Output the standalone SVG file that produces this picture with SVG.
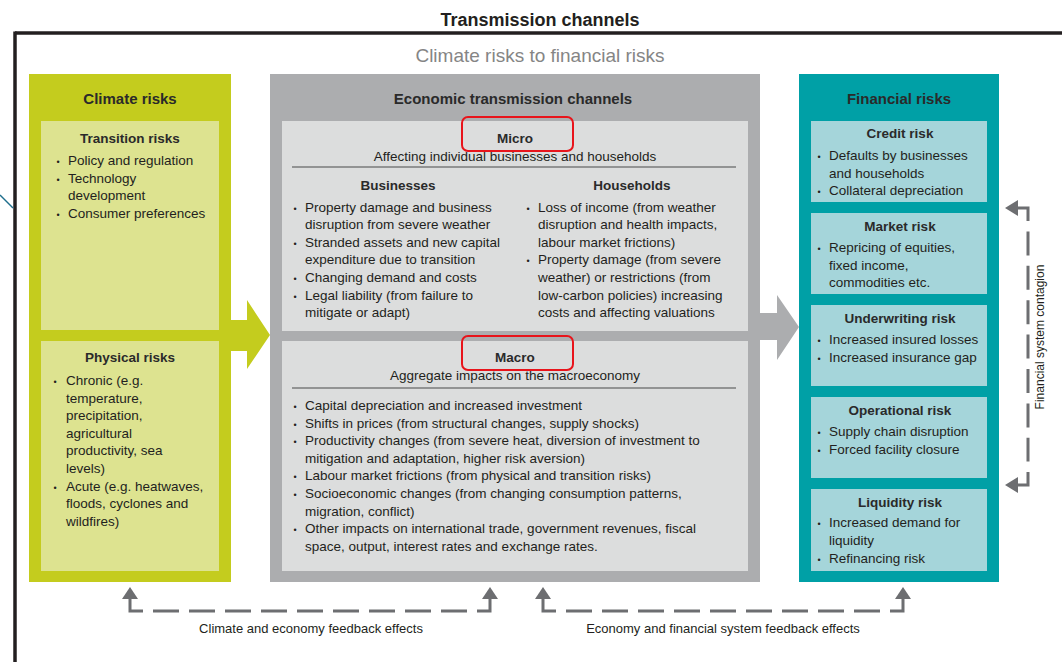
<svg xmlns="http://www.w3.org/2000/svg" width="1062" height="662" viewBox="0 0 1062 662">
<defs>
<style>
text{font-family:"Liberation Sans",Arial,sans-serif;fill:#231f20}
.t{font-size:13.5px}
.bu{font-size:9px;text-anchor:middle}
.h{font-size:15px;font-weight:bold;text-anchor:middle;fill:#2a2a2a}
.st{font-size:13.5px;font-weight:bold;text-anchor:middle;fill:#2a2a2a}
.c{text-anchor:middle}
.fb{font-size:13px;text-anchor:middle}
.red{fill:none;stroke:#e8141b;stroke-width:2}
.fl{fill:none;stroke:#6d6e71;stroke-width:3}
.dash{stroke-dasharray:26 10}
.head{fill:#6d6e71}
</style>
</defs>
<rect width="1062" height="662" fill="#ffffff"/>
<g id="frame">
<line x1="15" y1="33" x2="1062" y2="33" stroke="#231f20" stroke-width="3.5"/>
<line x1="15" y1="31.5" x2="15" y2="662" stroke="#231f20" stroke-width="3.5"/>
<line x1="0" y1="195" x2="13" y2="208" stroke="#1f6e8c" stroke-width="1.5"/>
<text x="540" y="26" class="c" style="font-size:18px;font-weight:bold">Transmission channels</text>
<text x="540" y="62" class="c" style="font-size:19px;fill:#858585">Climate risks to financial risks</text>
</g>
<g id="climate-risks">
<rect x="29" y="74" width="202" height="508" fill="#c4cc1e"/>
<polygon points="230,320 247,320 247,300 270,335 247,369 247,351 230,351" fill="#c4cc1e"/>
<text x="130" y="104" class="h">Climate risks</text>
<g id="transition-risks">
<rect x="41" y="121" width="178" height="209" fill="#dde390"/>
<text x="130" y="143" class="st">Transition risks</text>
<text x="58" y="165" class="bu">•</text><text x="68" y="165" class="t">Policy and regulation</text>
<text x="58" y="182.6" class="bu">•</text><text x="68" y="182.6" class="t">Technology</text>
<text x="68" y="200.2" class="t">development</text>
<text x="58" y="217.8" class="bu">•</text><text x="68" y="217.8" class="t">Consumer preferences</text>
</g>
<g id="physical-risks">
<rect x="41" y="341" width="178" height="230" fill="#dde390"/>
<text x="130" y="362" class="st">Physical risks</text>
<text x="55" y="385" class="bu">•</text><text x="66" y="385" class="t">Chronic (e.g.</text>
<text x="66" y="402.6" class="t">temperature,</text>
<text x="66" y="420.2" class="t">precipitation,</text>
<text x="66" y="437.8" class="t">agricultural</text>
<text x="66" y="455.4" class="t">productivity, sea</text>
<text x="66" y="473" class="t">levels)</text>
<text x="55" y="490.6" class="bu">•</text><text x="66" y="490.6" class="t">Acute (e.g. heatwaves,</text>
<text x="66" y="508.2" class="t">floods, cyclones and</text>
<text x="66" y="525.8" class="t">wildfires)</text>
</g>
</g>
<g id="economic-channels">
<rect x="270" y="74" width="490" height="508" fill="#acadaf"/>
<polygon points="759,313 777,313 777,295 799,327 777,360 777,340 759,340" fill="#acadaf"/>
<text x="513" y="104" class="h">Economic transmission channels</text>
<g id="micro">
<rect x="282" y="121" width="466" height="210" fill="#dcdddd"/>
<rect x="462" y="117" width="111" height="34" rx="6" class="red"/>
<text x="515" y="143" class="st">Micro</text>
<text x="515" y="161" class="t c">Affecting individual businesses and households</text>
<line x1="292" y1="167" x2="736" y2="167" stroke="#7a7a7a" stroke-width="1.3"/>
<text x="398" y="190" class="st">Businesses</text>
<text x="632" y="190" class="st">Households</text>
<text x="295" y="211.5" class="bu">•</text><text x="305" y="211.5" class="t">Property damage and business</text>
<text x="305" y="229.1" class="t">disruption from severe weather</text>
<text x="295" y="246.7" class="bu">•</text><text x="305" y="246.7" class="t">Stranded assets and new capital</text>
<text x="305" y="264.3" class="t">expenditure due to transition</text>
<text x="295" y="281.9" class="bu">•</text><text x="305" y="281.9" class="t">Changing demand and costs</text>
<text x="295" y="299.5" class="bu">•</text><text x="305" y="299.5" class="t">Legal liability (from failure to</text>
<text x="305" y="317.1" class="t">mitigate or adapt)</text>
<text x="528" y="211.5" class="bu">•</text><text x="538" y="211.5" class="t">Loss of income (from weather</text>
<text x="538" y="229.1" class="t">disruption and health impacts,</text>
<text x="538" y="246.7" class="t">labour market frictions)</text>
<text x="528" y="264.3" class="bu">•</text><text x="538" y="264.3" class="t">Property damage (from severe</text>
<text x="538" y="281.9" class="t">weather) or restrictions (from</text>
<text x="538" y="299.5" class="t">low-carbon policies) increasing</text>
<text x="538" y="317.1" class="t">costs and affecting valuations</text>
</g>
<g id="macro">
<rect x="282" y="341" width="466" height="230" fill="#dcdddd"/>
<rect x="462" y="336" width="111" height="34" rx="6" class="red"/>
<text x="515" y="362" class="st">Macro</text>
<text x="515" y="380" class="t c">Aggregate impacts on the macroeconomy</text>
<line x1="292" y1="388" x2="736" y2="388" stroke="#7a7a7a" stroke-width="1.3"/>
<text x="295" y="410" class="bu">•</text><text x="305" y="410" class="t">Capital depreciation and increased investment</text>
<text x="295" y="427.6" class="bu">•</text><text x="305" y="427.6" class="t">Shifts in prices (from structural changes, supply shocks)</text>
<text x="295" y="445.2" class="bu">•</text><text x="305" y="445.2" class="t">Productivity changes (from severe heat, diversion of investment to</text>
<text x="305" y="462.8" class="t">mitigation and adaptation, higher risk aversion)</text>
<text x="295" y="480.4" class="bu">•</text><text x="305" y="480.4" class="t">Labour market frictions (from physical and transition risks)</text>
<text x="295" y="498" class="bu">•</text><text x="305" y="498" class="t">Socioeconomic changes (from changing consumption patterns,</text>
<text x="305" y="515.6" class="t">migration, conflict)</text>
<text x="295" y="533.2" class="bu">•</text><text x="305" y="533.2" class="t">Other impacts on international trade, government revenues, fiscal</text>
<text x="305" y="550.8" class="t">space, output, interest rates and exchange rates.</text>
</g>
</g>
<g id="financial-risks">
<rect x="799" y="74" width="200" height="508" fill="#00a0a6"/>
<text x="899" y="104" class="h">Financial risks</text>
<g id="credit-risk">
<rect x="811" y="121" width="176" height="81" fill="#a5d5da"/>
<text x="900" y="137.5" class="st">Credit risk</text>
<text x="819" y="160" class="bu">•</text><text x="829" y="160" class="t">Defaults by businesses</text>
<text x="829" y="177.5" class="t">and households</text>
<text x="819" y="195" class="bu">•</text><text x="829" y="195" class="t">Collateral depreciation</text>
</g>
<g id="market-risk">
<rect x="811" y="213" width="176" height="81" fill="#a5d5da"/>
<text x="900" y="231" class="st">Market risk</text>
<text x="819" y="252" class="bu">•</text><text x="829" y="252" class="t">Repricing of equities,</text>
<text x="829" y="269.5" class="t">fixed income,</text>
<text x="829" y="287" class="t">commodities etc.</text>
</g>
<g id="underwriting-risk">
<rect x="811" y="305" width="176" height="81" fill="#a5d5da"/>
<text x="900" y="323" class="st">Underwriting risk</text>
<text x="819" y="344" class="bu">•</text><text x="829" y="344" class="t">Increased insured losses</text>
<text x="819" y="362" class="bu">•</text><text x="829" y="362" class="t">Increased insurance gap</text>
</g>
<g id="operational-risk">
<rect x="811" y="397" width="176" height="81" fill="#a5d5da"/>
<text x="900" y="415" class="st">Operational risk</text>
<text x="819" y="436" class="bu">•</text><text x="829" y="436" class="t">Supply chain disruption</text>
<text x="819" y="454" class="bu">•</text><text x="829" y="454" class="t">Forced facility closure</text>
</g>
<g id="liquidity-risk">
<rect x="811" y="489" width="176" height="82" fill="#a5d5da"/>
<text x="900" y="507" class="st">Liquidity risk</text>
<text x="819" y="527" class="bu">•</text><text x="829" y="527" class="t">Increased demand for</text>
<text x="829" y="545" class="t">liquidity</text>
<text x="819" y="563" class="bu">•</text><text x="829" y="563" class="t">Refinancing risk</text>
</g>
</g>
<g id="connectors">
<g id="climate-economy-feedback">
<polyline points="130,598 130,611 143,611" class="fl"/>
<line x1="153" y1="611" x2="467" y2="611" class="fl dash"/>
<polyline points="477,611 490,611 490,598" class="fl"/>
<polygon points="130,587 122,599 138,599" class="head"/>
<polygon points="490,587 482,599 498,599" class="head"/>
<text x="311" y="633" class="fb">Climate and economy feedback effects</text>
</g>
<g id="economy-financial-feedback">
<polyline points="543,598 543,611 556,611" class="fl"/>
<line x1="566" y1="611" x2="880" y2="611" class="fl dash"/>
<polyline points="890,611 903,611 903,598" class="fl"/>
<polygon points="543,587 535,599 551,599" class="head"/>
<polygon points="903,587 895,599 911,599" class="head"/>
<text x="723" y="633" class="fb">Economy and financial system feedback effects</text>
</g>
<g id="financial-contagion">
<polyline points="1017,208 1028,208 1028,221" class="fl"/>
<line x1="1028" y1="231.4" x2="1028" y2="461.6" class="fl" style="stroke-dasharray:24 10.4"/>
<polyline points="1028,472 1028,485 1017,485" class="fl"/>
<polygon points="1005,208 1018,200 1018,216" class="head"/>
<polygon points="1005,485 1018,477 1018,493" class="head"/>
<text transform="translate(1044,337) rotate(-90)" style="font-size:12px;text-anchor:middle">Financial system contagion</text>
</g>
</g>
</svg>
